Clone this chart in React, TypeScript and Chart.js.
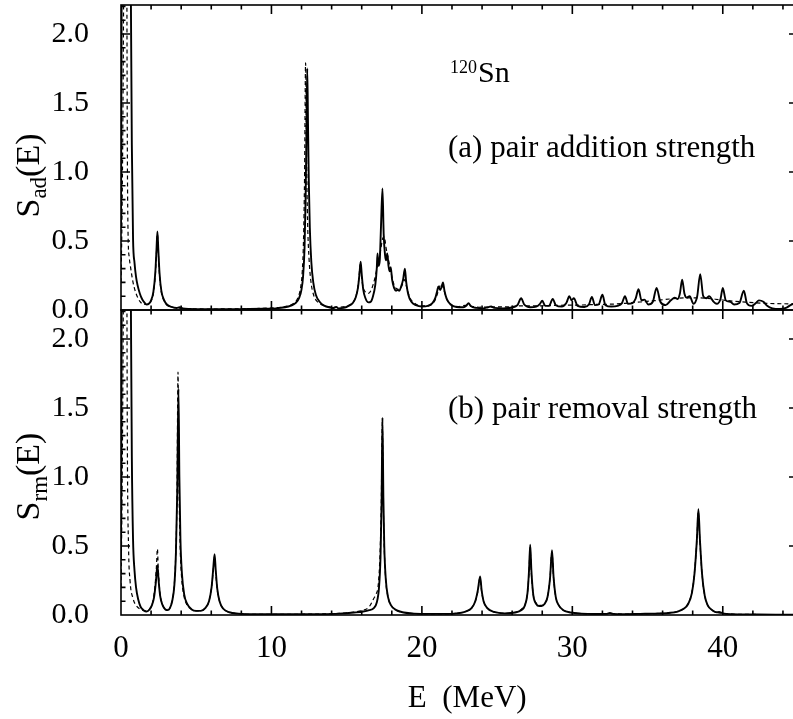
import React, { useEffect, useRef } from 'react';
import { Chart, registerables } from 'chart.js';

Chart.register(...registerables);

const FONT = '"Liberation Serif", "Times New Roman", Times, serif';

// ---------- x / y axis ticks ----------
const xMajorTicks = [0, 10, 20, 30, 40];
const xMinorTicks = [2, 4, 6, 8, 12, 14, 16, 18, 22, 24, 26, 28, 32, 34, 36, 38, 42, 44];
const yMajorTicks = [0, 0.5, 1.0, 1.5, 2.0];
const xMin = 0;
const xMax = 45;
const yMax = 2.21;

// ---------- (a) pair addition strength ----------
const addSolidE = [0.00, 0.05, 0.15, 0.35, 0.55, 0.65, 0.72, 0.80, 0.90, 1.00, 1.10, 1.25, 1.40, 1.55, 1.70, 1.85, 2.00, 2.15, 2.28, 2.36, 2.42, 2.48, 2.56, 2.68, 2.85, 3.05, 3.35, 3.70, 3.90, 4.10, 4.60, 5.50, 6.50, 7.50, 8.50, 9.50, 10.30, 10.90, 11.30, 11.60, 11.85, 12.00, 12.10, 12.20, 12.27, 12.33, 12.38, 12.43, 12.48, 12.55, 12.65, 12.78, 12.95, 13.20, 13.50, 13.90, 14.15, 14.30, 14.45, 14.80, 15.10, 15.40, 15.60, 15.75, 15.85, 15.93, 16.00, 16.10, 16.25, 16.45, 16.60, 16.75, 16.90, 17.00, 17.05, 17.12, 17.20, 17.28, 17.38, 17.46, 17.55, 17.62, 17.70, 17.78, 17.85, 17.93, 18.02, 18.15, 18.28, 18.38, 18.50, 18.62, 18.75, 18.87, 18.95, 19.10, 19.30, 19.60, 20.00, 20.40, 20.70, 20.90, 21.02, 21.10, 21.22, 21.32, 21.40, 21.50, 21.65, 21.90, 22.30, 22.75, 22.95, 23.10, 23.25, 23.60, 24.10, 24.40, 24.60, 24.80, 25.40, 26.00, 26.35, 26.60, 26.80, 27.20, 27.60, 27.85, 28.00, 28.20, 28.45, 28.70, 28.90, 29.30, 29.60, 29.80, 29.95, 30.10, 30.35, 30.80, 31.10, 31.30, 31.50, 31.75, 32.00, 32.20, 32.60, 33.00, 33.30, 33.50, 33.70, 34.00, 34.20, 34.40, 34.60, 34.80, 35.05, 35.35, 35.60, 35.85, 36.20, 36.55, 36.80, 37.00, 37.15, 37.30, 37.45, 37.60, 37.80, 38.05, 38.30, 38.50, 38.70, 38.90, 39.10, 39.35, 39.60, 39.85, 40.00, 40.20, 40.50, 40.75, 41.10, 41.40, 41.60, 41.90, 42.20, 42.40, 42.70, 42.95, 43.30, 43.80, 44.20, 44.50, 45.00];
const addSolidS = [0.60, 2.60, 4.50, 5.50, 4.20, 2.40, 1.20, 0.52, 0.34, 0.24, 0.18, 0.12, 0.08, 0.055, 0.04, 0.045, 0.07, 0.13, 0.27, 0.44, 0.57, 0.44, 0.27, 0.14, 0.075, 0.04, 0.022, 0.014, 0.02, 0.012, 0.008, 0.006, 0.005, 0.006, 0.007, 0.009, 0.012, 0.02, 0.032, 0.05, 0.09, 0.15, 0.24, 0.45, 0.80, 1.30, 1.75, 1.35, 0.95, 0.60, 0.35, 0.20, 0.11, 0.06, 0.032, 0.018, 0.014, 0.022, 0.012, 0.015, 0.028, 0.05, 0.09, 0.16, 0.26, 0.35, 0.26, 0.15, 0.085, 0.055, 0.06, 0.10, 0.18, 0.30, 0.41, 0.32, 0.36, 0.60, 0.88, 0.55, 0.40, 0.36, 0.41, 0.32, 0.28, 0.31, 0.22, 0.16, 0.14, 0.145, 0.14, 0.17, 0.22, 0.30, 0.21, 0.11, 0.06, 0.035, 0.025, 0.03, 0.05, 0.09, 0.14, 0.17, 0.145, 0.17, 0.20, 0.14, 0.08, 0.04, 0.022, 0.02, 0.03, 0.05, 0.028, 0.015, 0.012, 0.02, 0.025, 0.015, 0.012, 0.018, 0.035, 0.085, 0.04, 0.02, 0.025, 0.045, 0.067, 0.03, 0.03, 0.08, 0.035, 0.025, 0.05, 0.10, 0.07, 0.085, 0.03, 0.022, 0.04, 0.094, 0.035, 0.04, 0.11, 0.035, 0.025, 0.03, 0.05, 0.10, 0.045, 0.05, 0.08, 0.15, 0.07, 0.075, 0.04, 0.06, 0.16, 0.06, 0.035, 0.07, 0.09, 0.08, 0.12, 0.22, 0.12, 0.09, 0.10, 0.045, 0.10, 0.26, 0.10, 0.085, 0.10, 0.065, 0.045, 0.08, 0.16, 0.07, 0.06, 0.04, 0.05, 0.14, 0.05, 0.03, 0.05, 0.07, 0.06, 0.03, 0.012, 0.008, 0.015, 0.035, 0.06];

const addDashE = [0.00, 0.08, 0.16, 0.24, 0.30, 0.36, 0.42, 0.47, 0.55, 0.65, 0.80, 1.00, 1.27, 1.55, 1.80, 2.00, 2.15, 2.28, 2.36, 2.42, 2.48, 2.56, 2.68, 2.85, 3.05, 3.40, 4.00, 5.00, 6.00, 7.00, 8.00, 9.00, 10.00, 10.80, 11.30, 11.60, 11.80, 11.95, 12.05, 12.13, 12.20, 12.27, 12.33, 12.40, 12.50, 12.62, 12.80, 13.05, 13.40, 13.90, 14.40, 14.90, 15.30, 15.55, 15.72, 15.82, 15.90, 15.98, 16.08, 16.25, 16.45, 16.65, 16.85, 17.05, 17.25, 17.40, 17.50, 17.62, 17.75, 17.90, 18.05, 18.25, 18.45, 18.65, 18.85, 19.00, 19.20, 19.50, 19.90, 20.40, 20.75, 20.95, 21.15, 21.30, 21.45, 21.65, 21.95, 22.40, 23.00, 23.20, 23.80, 24.50, 25.50, 26.50, 27.50, 28.50, 29.50, 30.50, 31.50, 32.50, 33.50, 34.50, 35.50, 36.50, 37.50, 38.50, 39.50, 40.50, 41.50, 42.50, 43.50, 44.50, 45.00];
const addDashS = [0.20, 0.80, 2.00, 4.00, 5.00, 3.60, 1.20, 0.55, 0.38, 0.30, 0.20, 0.12, 0.06, 0.04, 0.04, 0.065, 0.12, 0.25, 0.42, 0.55, 0.42, 0.25, 0.13, 0.07, 0.035, 0.02, 0.012, 0.008, 0.007, 0.008, 0.009, 0.011, 0.015, 0.023, 0.038, 0.06, 0.10, 0.17, 0.28, 0.50, 0.95, 1.79, 1.15, 0.65, 0.37, 0.21, 0.11, 0.06, 0.035, 0.022, 0.02, 0.025, 0.045, 0.08, 0.15, 0.24, 0.33, 0.25, 0.17, 0.13, 0.12, 0.15, 0.22, 0.32, 0.43, 0.52, 0.53, 0.45, 0.38, 0.30, 0.22, 0.16, 0.15, 0.17, 0.22, 0.16, 0.09, 0.05, 0.03, 0.03, 0.05, 0.09, 0.16, 0.19, 0.15, 0.08, 0.04, 0.025, 0.035, 0.03, 0.02, 0.022, 0.022, 0.03, 0.03, 0.032, 0.035, 0.036, 0.04, 0.042, 0.048, 0.058, 0.068, 0.08, 0.088, 0.088, 0.078, 0.066, 0.057, 0.05, 0.046, 0.045, 0.045];

// ---------- (b) pair removal strength ----------
const rmSolidE = [0.00, 0.05, 0.15, 0.35, 0.55, 0.65, 0.72, 0.80, 0.90, 1.00, 1.15, 1.30, 1.50, 1.70, 1.90, 2.05, 2.20, 2.32, 2.42, 2.50, 2.60, 2.75, 2.95, 3.10, 3.25, 3.40, 3.55, 3.65, 3.74, 3.82, 3.88, 3.95, 4.05, 4.20, 4.40, 4.70, 5.00, 5.30, 5.60, 5.85, 6.02, 6.12, 6.22, 6.30, 6.40, 6.55, 6.80, 7.20, 7.80, 9.00, 11.00, 13.00, 14.50, 15.50, 16.10, 16.50, 16.80, 17.00, 17.15, 17.25, 17.32, 17.38, 17.44, 17.50, 17.60, 17.75, 17.95, 18.30, 18.80, 19.50, 20.50, 21.50, 22.30, 22.90, 23.30, 23.55, 23.72, 23.87, 23.97, 24.10, 24.35, 24.80, 25.50, 26.20, 26.60, 26.85, 27.02, 27.12, 27.20, 27.28, 27.40, 27.60, 27.80, 27.95, 28.15, 28.35, 28.52, 28.65, 28.75, 28.90, 29.10, 29.40, 29.90, 30.60, 31.50, 32.30, 32.50, 32.70, 33.50, 34.50, 35.50, 36.40, 37.00, 37.40, 37.70, 37.95, 38.12, 38.28, 38.38, 38.48, 38.62, 38.80, 39.00, 39.30, 39.60, 39.75, 40.00, 40.60, 42.00, 43.50, 45.00];
const rmSolidS = [0.40, 2.50, 4.50, 5.50, 4.20, 2.40, 1.15, 0.55, 0.32, 0.20, 0.11, 0.06, 0.035, 0.025, 0.04, 0.07, 0.13, 0.24, 0.36, 0.25, 0.14, 0.075, 0.04, 0.035, 0.05, 0.10, 0.22, 0.45, 0.90, 1.64, 1.00, 0.55, 0.30, 0.15, 0.08, 0.04, 0.03, 0.03, 0.05, 0.10, 0.20, 0.32, 0.44, 0.32, 0.19, 0.10, 0.045, 0.02, 0.01, 0.005, 0.005, 0.006, 0.01, 0.018, 0.025, 0.035, 0.05, 0.09, 0.20, 0.42, 0.80, 1.43, 0.85, 0.50, 0.26, 0.13, 0.07, 0.035, 0.018, 0.01, 0.008, 0.008, 0.012, 0.025, 0.05, 0.10, 0.18, 0.28, 0.18, 0.10, 0.05, 0.022, 0.012, 0.018, 0.035, 0.07, 0.16, 0.32, 0.51, 0.32, 0.15, 0.08, 0.065, 0.065, 0.08, 0.13, 0.27, 0.47, 0.28, 0.13, 0.07, 0.035, 0.018, 0.01, 0.007, 0.008, 0.014, 0.008, 0.006, 0.008, 0.01, 0.015, 0.025, 0.045, 0.08, 0.16, 0.30, 0.55, 0.766, 0.55, 0.30, 0.14, 0.07, 0.035, 0.02, 0.022, 0.012, 0.006, 0.004, 0.003, 0.003];

const rmDashE = [0.00, 0.08, 0.16, 0.24, 0.30, 0.36, 0.42, 0.50, 0.60, 0.80, 1.00, 1.30, 1.60, 1.90, 2.10, 2.25, 2.35, 2.42, 2.48, 2.58, 2.72, 2.95, 3.15, 3.35, 3.50, 3.62, 3.72, 3.79, 3.85, 3.93, 4.03, 4.18, 4.40, 4.70, 5.00, 5.30, 5.60, 5.85, 6.02, 6.12, 6.21, 6.30, 6.40, 6.55, 6.80, 7.20, 7.80, 9.00, 11.00, 13.00, 14.50, 15.50, 16.10, 16.50, 16.80, 16.95, 17.10, 17.22, 17.30, 17.37, 17.43, 17.50, 17.60, 17.75, 17.95, 18.30, 18.80, 19.50, 20.50, 21.50, 22.30, 22.90, 23.30, 23.55, 23.72, 23.86, 23.97, 24.10, 24.35, 24.80, 25.50, 26.20, 26.60, 26.85, 27.02, 27.12, 27.19, 27.27, 27.40, 27.60, 27.80, 27.95, 28.15, 28.35, 28.52, 28.64, 28.75, 28.90, 29.10, 29.40, 29.90, 30.60, 31.50, 32.50, 33.50, 34.50, 35.50, 36.40, 37.00, 37.40, 37.70, 37.95, 38.12, 38.28, 38.37, 38.47, 38.62, 38.80, 39.00, 39.30, 39.60, 40.00, 40.60, 42.00, 43.50, 45.00];
const rmDashS = [0.20, 1.00, 2.40, 4.50, 5.20, 3.80, 1.30, 0.50, 0.25, 0.12, 0.07, 0.04, 0.03, 0.045, 0.09, 0.20, 0.34, 0.48, 0.33, 0.17, 0.085, 0.045, 0.04, 0.08, 0.17, 0.38, 0.85, 1.76, 1.00, 0.50, 0.27, 0.14, 0.07, 0.04, 0.03, 0.03, 0.05, 0.10, 0.20, 0.31, 0.42, 0.30, 0.18, 0.10, 0.045, 0.02, 0.01, 0.005, 0.005, 0.007, 0.012, 0.022, 0.035, 0.06, 0.12, 0.15, 0.22, 0.45, 0.80, 1.40, 0.85, 0.48, 0.25, 0.13, 0.07, 0.035, 0.018, 0.01, 0.008, 0.008, 0.012, 0.025, 0.05, 0.10, 0.17, 0.27, 0.17, 0.10, 0.05, 0.022, 0.012, 0.02, 0.04, 0.075, 0.16, 0.31, 0.49, 0.31, 0.15, 0.085, 0.07, 0.07, 0.085, 0.13, 0.27, 0.46, 0.27, 0.13, 0.07, 0.035, 0.018, 0.01, 0.007, 0.01, 0.006, 0.008, 0.01, 0.015, 0.026, 0.045, 0.085, 0.17, 0.31, 0.55, 0.75, 0.55, 0.30, 0.14, 0.07, 0.035, 0.02, 0.012, 0.006, 0.004, 0.003, 0.003];

const toPoints = (es: number[], ss: number[]) => es.map((e, i) => ({ x: e, y: ss[i] }));

function drawYTitle(ctx: CanvasRenderingContext2D, sub: string, cx: number, cy: number) {
  ctx.save();
  ctx.translate(cx, cy);
  ctx.rotate(-Math.PI / 2);
  const big = `34px ${FONT}`;
  const small = `23px ${FONT}`;
  ctx.font = big;
  const wS = ctx.measureText('S').width;
  const wE = ctx.measureText('(E)').width;
  ctx.font = small;
  const wSub = ctx.measureText(sub).width;
  const total = wS + wSub + wE;
  let px = -total / 2;
  ctx.fillStyle = '#000';
  ctx.textAlign = 'left';
  ctx.textBaseline = 'alphabetic';
  ctx.font = big;
  ctx.fillText('S', px, 0);
  px += wS;
  ctx.font = small;
  ctx.fillText(sub, px, 7.5);
  px += wSub;
  ctx.font = big;
  ctx.fillText('(E)', px, 0);
  ctx.restore();
}

const decoPlugin = {
  id: 'deco',
  beforeDatasetDraw(chart: any, args: any) {
    const ys = args.meta.yScale;
    const a = chart.chartArea;
    const ctx = chart.ctx;
    ctx.save();
    ctx.beginPath();
    ctx.rect(a.left, ys.top, a.right - a.left, ys.bottom - ys.top);
    ctx.clip();
  },
  afterDatasetDraw(chart: any) {
    chart.ctx.restore();
  },
  afterDraw(chart: any) {
    const ctx: CanvasRenderingContext2D = chart.ctx;
    const a = chart.chartArea;
    const xs = chart.scales.x;
    ctx.save();
    ctx.strokeStyle = '#000';
    ctx.lineWidth = 1.6;
    const majorLen = 9;
    const minorLen = 4.5;
    for (const id of ['yTop', 'yBot']) {
      const ys = chart.scales[id];
      ctx.strokeRect(a.left, ys.top, a.right - a.left, ys.bottom - ys.top);
      ctx.beginPath();
      const xt = [...xMajorTicks.filter((v) => v > xMin).map((v) => [v, majorLen]), ...xMinorTicks.map((v) => [v, minorLen])];
      for (const [v, len] of xt) {
        const px = xs.getPixelForValue(v);
        ctx.moveTo(px, ys.top);
        ctx.lineTo(px, ys.top + len);
        ctx.moveTo(px, ys.bottom);
        ctx.lineTo(px, ys.bottom - len);
      }
      for (let k = 1; k <= 22; k++) {
        const v = k / 10;
        if (v > ys.max) break;
        const len = k % 5 === 0 ? majorLen : minorLen;
        const py = ys.getPixelForValue(v);
        ctx.moveTo(a.left, py);
        ctx.lineTo(a.left + len, py);
        ctx.moveTo(a.right, py);
        ctx.lineTo(a.right - len, py);
      }
      ctx.stroke();
    }
    ctx.restore();

    const yTop = chart.scales.yTop;
    const yBot = chart.scales.yBot;
    drawYTitle(ctx, 'ad', 38.5, (yTop.top + yTop.bottom) / 2 + 18);
    drawYTitle(ctx, 'rm', 39, (yBot.top + yBot.bottom) / 2 + 14);

    ctx.save();
    ctx.fillStyle = '#000';
    ctx.textAlign = 'left';
    ctx.textBaseline = 'alphabetic';
    ctx.font = `18px ${FONT}`;
    ctx.fillText('120', 450, 73);
    ctx.font = `30px ${FONT}`;
    ctx.fillText('Sn', 478, 82);
    ctx.font = `31px ${FONT}`;
    ctx.fillText('(a) pair addition strength', 448, 157);
    ctx.fillText('(b) pair removal strength', 448, 418);
    ctx.restore();
  },
};

export default function App() {
  const ref = useRef<HTMLCanvasElement | null>(null);
  useEffect(() => {
    if (!ref.current) return;
    const solid = { borderColor: '#000', borderWidth: 1.9, pointRadius: 0, fill: false, cubicInterpolationMode: 'monotone' as const };
    const dashed = { borderColor: '#000', borderWidth: 1.2, borderDash: [4, 3], pointRadius: 0, fill: false, cubicInterpolationMode: 'monotone' as const };
    const yAxis = (weight: number) => ({
      type: 'linear' as const,
      position: 'left' as const,
      stack: 'panels',
      stackWeight: 1,
      weight,
      min: 0,
      max: yMax,
      grid: { display: false, drawTicks: false },
      border: { display: false },
      ticks: {
        color: '#000',
        padding: 32,
        font: { family: FONT, size: 30 },
        callback: (v: any) => Number(v).toFixed(1),
      },
      afterBuildTicks: (s: any) => {
        s.ticks = yMajorTicks.map((v) => ({ value: v }));
      },
      afterFit: (s: any) => {
        s.width = 121;
        s.paddingTop = 0;
        s.paddingBottom = 0;
      },
    });
    const chart = new Chart(ref.current, {
      type: 'line',
      data: {
        datasets: [
          { ...solid, label: 'addition', data: toPoints(addSolidE, addSolidS), yAxisID: 'yTop' },
          { ...dashed, label: 'addition (dashed)', data: toPoints(addDashE, addDashS), yAxisID: 'yTop' },
          { ...solid, label: 'removal', data: toPoints(rmSolidE, rmSolidS), yAxisID: 'yBot' },
          { ...dashed, label: 'removal (dashed)', data: toPoints(rmDashE, rmDashS), yAxisID: 'yBot' },
        ],
      },
      options: {
        responsive: false,
        animation: false,
        events: [],
        layout: { padding: { left: 0, right: 8, top: 5, bottom: 0 } },
        plugins: { legend: { display: false }, tooltip: { enabled: false } },
        scales: {
          x: {
            type: 'linear',
            position: 'bottom',
            min: xMin,
            max: xMax,
            grid: { display: false, drawTicks: false },
            border: { display: false },
            ticks: { color: '#000', padding: 15, font: { family: FONT, size: 31 }, maxRotation: 0 },
            afterBuildTicks: (s: any) => {
              s.ticks = xMajorTicks.map((v) => ({ value: v }));
            },
            afterFit: (s: any) => {
              s.height = 104;
              s.paddingLeft = 0;
              s.paddingRight = 0;
            },
            title: {
              display: true,
              text: '  E  (MeV)',
              color: '#000',
              font: { family: FONT, size: 31 },
              padding: { top: 0, bottom: 2 },
            },
          },
          yTop: yAxis(2),
          yBot: yAxis(1),
        },
      },
      plugins: [decoPlugin],
    });
    return () => chart.destroy();
  }, []);

  return (
    <div style={{ position: 'absolute', left: 0, top: 0, width: 793, height: 719, overflow: 'hidden', background: '#fff' }}>
      <canvas ref={ref} width={806} height={719} style={{ width: 806, height: 719, display: 'block' }} />
    </div>
  );
}
